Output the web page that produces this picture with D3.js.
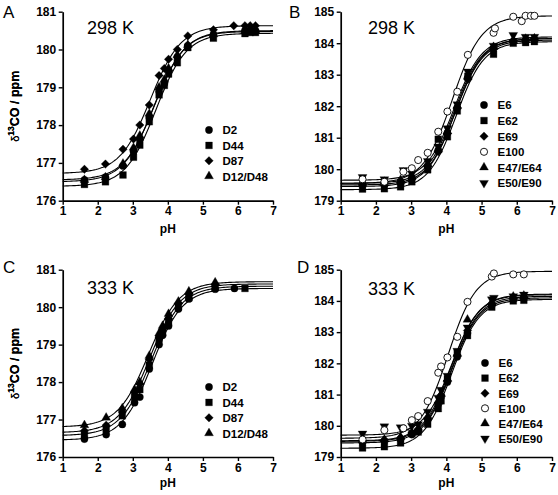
<!DOCTYPE html>
<html>
<head>
<meta charset="utf-8">
<script src="https://cdn.jsdelivr.net/npm/d3@7"></script>
<style>
  html, body { margin: 0; padding: 0; background: #fff; }
  svg { display: block; font-family: "Liberation Sans", Arial, sans-serif; }
</style>
</head>
<body>
<svg id="chart" width="558" height="495"></svg>
<script>
// ---------------- DATA ----------------
const xTicks = [1, 2, 3, 4, 5, 6, 7];
const yTicksD = [176, 177, 178, 179, 180, 181];
const yTicksE = [179, 180, 181, 182, 183, 184, 185];

const namesD = ["D2", "D44", "D87", "D12/D48"];
const namesE = ["E6", "E62", "E69", "E100", "E47/E64", "E50/E90"];
const symbolsD = ["circle", "square", "diamond", "triangle"];
const symbolsE = ["circle", "square", "diamond", "open", "triangle", "down"];

// Panel A (298 K, Asp)
const pHA = [1.62, 2.22, 2.72, 3.02, 3.2, 3.47, 3.75, 3.9, 4.02, 4.27, 4.57, 5.3, 5.88, 6.2, 6.35, 6.5];
const A_D2   = [176.55, 176.62, 176.92, 177.3, 177.62, 178.2, 178.9, 179.1, 179.45, 179.8, 180.1, 180.4, null, 180.5, 180.52, 180.5];
const A_D44  = [176.43, 176.5, 176.68, 177.15, 177.47, 178.09, 178.8, 179.05, 179.35, 179.65, 180.05, 180.3, null, 180.42, 180.45, 180.45];
const A_D87  = [176.83, 176.97, 177.36, 177.63, 178.0, 178.53, 179.31, 179.5, 179.74, 180.0, 180.36, 180.52, 180.63, 180.63, 180.63, 180.63];
const A_D1248 = [176.55, 176.62, 176.98, 177.4, 177.72, 178.3, 179.0, 179.2, 179.5, 179.85, 180.12, 180.4, null, 180.48, 180.48, 180.5];
// fit parameters [low, high, pKa, n]
const fitA = [[176.55, 180.5, 3.62, 1], [176.38, 180.43, 3.66, 1], [176.72, 180.63, 3.5, 1], [176.5, 180.48, 3.6, 1]];

// Panel B (298 K, Glu)
const pHB = [1.62, 2.24, 2.7, 2.78, 3.02, 3.2, 3.47, 3.77, 4.03, 4.31, 4.61, 5.34, 5.38, 5.9, 6.14, 6.25, 6.4, 6.5];
const B_E6    = [179.52, 179.53, 179.6, null, 179.72, null, 180.1, 180.6, 181.15, 181.95, 182.9, 183.82, null, 184.05, null, 184.08, null, 184.1];
const B_E62   = [179.37, 179.38, 179.44, null, 179.6, null, 179.98, 180.95, 181.03, 181.85, 182.95, 183.65, null, 184.0, null, 184.02, null, 184.05];
const B_E69   = [179.47, 179.48, 179.54, null, 179.68, null, 180.08, 180.55, 181.13, 181.95, 182.85, 183.85, null, 184.08, null, 184.12, null, 184.14];
const B_E100  = [179.68, 179.6, null, 179.92, 180.03, 180.29, 180.52, 181.19, 181.83, 182.46, 183.63, 184.33, 184.47, 184.84, 184.7, 184.87, 184.87, 184.87];
const B_E4764 = [179.57, 179.6, 179.66, null, 179.78, null, 180.17, 180.64, 181.2, 182.0, 182.95, 183.88, null, 184.1, null, 184.14, null, 184.15];
const B_E5090 = [179.75, 179.68, null, 179.97, 179.86, null, 180.26, 180.72, 181.3, 182.06, 183.1, 183.92, null, 184.26, null, 184.2, null, 184.2];
const fitB = [[179.5, 184.1, 4.25, 1.1], [179.35, 184.05, 4.28, 1.1], [179.45, 184.15, 4.25, 1.1],
              [179.55, 184.87, 4.17, 1.05], [179.55, 184.15, 4.23, 1.1], [179.65, 184.2, 4.22, 1.1]];

// Panel C (333 K, Asp)
const pHC = [1.62, 2.24, 2.7, 3.05, 3.2, 3.47, 3.75, 3.85, 4.02, 4.3, 4.6, 5.35, 5.9, 6.2];
const C_D2   = [176.48, 176.6, 176.87, 177.45, 177.6, 178.35, 179.0, 179.25, 179.5, 179.95, 180.22, 180.48, 180.5, null];
const C_D44  = [176.58, 176.75, 177.1, 177.6, 177.8, 178.45, 179.15, 179.3, 179.6, 180.0, 180.25, 180.52, null, 180.5];
const C_D87  = [176.7, 176.85, 177.2, 177.72, 177.95, 178.6, 179.2, 179.4, 179.7, 180.1, 180.35, 180.6, null, null];
const C_D1248 = [176.85, 177.05, 177.3, 177.8, 178.0, 178.7, 179.3, 179.5, 179.82, 180.15, 180.42, 180.66, null, null];
const fitC = [[176.45, 180.5, 3.55, 1], [176.57, 180.56, 3.52, 1], [176.65, 180.62, 3.48, 1], [176.8, 180.68, 3.45, 1]];

// Panel D (333 K, Glu)
const pHD = [1.62, 2.24, 2.7, 2.78, 3.02, 3.2, 3.47, 3.77, 3.85, 4.03, 4.31, 4.6, 5.29, 5.35, 5.9, 6.2];
const D_E6    = [179.46, 179.5, 179.57, null, 179.72, 179.84, 180.2, 180.7, 180.93, 181.4, 182.21, 182.97, 183.86, null, 184.04, 184.07];
const D_E62   = [179.29, 179.33, 179.45, null, 179.75, 179.8, 180.05, 180.55, 180.8, 181.5, 182.33, 182.89, 183.8, null, 184.0, 184.02];
const D_E69   = [179.51, 179.55, 179.62, null, 179.77, 179.89, 180.25, 180.74, 180.98, 181.44, 182.26, 183.05, 183.91, null, 184.09, 184.12];
const D_E100  = [179.56, 179.86, null, 179.92, 180.18, 180.31, 180.79, 181.7, 181.9, 182.19, 182.85, 183.97, 184.78, 184.88, 184.85, 184.85];
const D_E4764 = [179.53, 179.56, 179.64, null, 179.79, 179.91, 180.28, 180.77, 181.01, 181.5, 182.3, 183.4, 183.96, null, 184.14, 184.17];
const D_E5090 = [179.75, 179.98, 179.95, null, 180.0, 180.05, 180.45, 180.9, 181.15, 181.6, 182.4, 183.15, 184.05, 184.1, 184.15, 184.2];
const fitD = [[179.45, 184.1, 4.15, 1.1], [179.28, 184.05, 4.15, 1.1], [179.5, 184.15, 4.15, 1.1],
              [179.6, 184.95, 4.05, 1.1], [179.52, 184.2, 4.13, 1.1], [179.7, 184.22, 4.15, 1.1]];

// ---------------- LAYOUT ----------------
const panels = [
  { letter: "A", temp: "298 K", pH: pHA, series: [A_D2, A_D44, A_D87, A_D1248], fits: fitA, names: namesD, syms: symbolsD,
    yTicks: yTicksD, box: { l: 62.7, r: 273, t: 11.7, b: 200.7 }, letterPos: [3, 17.5], tempPos: [87, 33.5],
    leg: { x: 209, y: 130, dy: 15.4 }, pHy: 233 },
  { letter: "B", temp: "298 K", pH: pHB, series: [B_E6, B_E62, B_E69, B_E100, B_E4764, B_E5090], fits: fitB, names: namesE, syms: symbolsE,
    yTicks: yTicksE, box: { l: 340.7, r: 552, t: 11.7, b: 200.7 }, letterPos: [289, 17.5], tempPos: [368, 33.5],
    leg: { x: 484, y: 105, dy: 15.6 }, pHy: 233 },
  { letter: "C", temp: "333 K", pH: pHC, series: [C_D2, C_D44, C_D87, C_D1248], fits: fitC, names: namesD, syms: symbolsD,
    yTicks: yTicksD, box: { l: 62.7, r: 273, t: 269.7, b: 457 }, letterPos: [3, 273], tempPos: [87, 293.5],
    leg: { x: 209, y: 387, dy: 15.4 }, pHy: 487 },
  { letter: "D", temp: "333 K", pH: pHD, series: [D_E6, D_E62, D_E69, D_E100, D_E4764, D_E5090], fits: fitD, names: namesE, syms: symbolsE,
    yTicks: yTicksE, box: { l: 340.7, r: 552, t: 269.7, b: 457 }, letterPos: [297, 273], tempPos: [368, 294.5],
    leg: { x: 485, y: 363, dy: 15.1 }, pHy: 487 }
];

const svg = d3.select("#chart");

function symbolPath(kind) {
  switch (kind) {
    case "circle": return d3.symbol().type(d3.symbolCircle).size(42)();
    case "open": return d3.symbol().type(d3.symbolCircle).size(40)();
    case "square": return d3.symbol().type(d3.symbolSquare).size(46)();
    case "diamond": return d3.symbol().type(d3.symbolSquare).size(36)();
    case "triangle": return d3.symbol().type(d3.symbolTriangle).size(34)();
    case "down": return d3.symbol().type(d3.symbolTriangle).size(34)();
  }
}
function symbolRot(kind) {
  if (kind === "diamond") return 45;
  if (kind === "down") return 180;
  return 0;
}
function drawSymbol(g, kind, x, y) {
  g.append("path")
    .attr("d", symbolPath(kind))
    .attr("transform", `translate(${x},${y}) rotate(${symbolRot(kind)})`)
    .attr("fill", kind === "open" ? "#fff" : "#000")
    .attr("stroke", "#000")
    .attr("stroke-width", kind === "open" ? 0.9 : 0.3);
}

const hh = (p, ph) => p[0] + (p[1] - p[0]) / (1 + Math.pow(10, p[3] * (p[2] - ph)));
const curveX = d3.range(1, 7.0001, 0.05);

panels.forEach(P => {
  const x = d3.scaleLinear().domain([1, 7]).range([P.box.l, P.box.r]);
  const y = d3.scaleLinear().domain([P.yTicks[0], P.yTicks[P.yTicks.length - 1]]).range([P.box.b, P.box.t]);
  const g = svg.append("g");

  // fitted curves
  const line = d3.line().x(d => x(d[0])).y(d => y(d[1]));
  P.fits.forEach(f => {
    g.append("path")
      .datum(curveX.map(ph => [ph, hh(f, ph)]))
      .attr("d", line)
      .attr("fill", "none")
      .attr("stroke", "#000")
      .attr("stroke-width", 1.1);
  });

  // points (open circles last so they sit on top)
  const order = P.syms.map((s, i) => i).sort((a, b) => (P.syms[a] === "open") - (P.syms[b] === "open"));
  order.forEach(i => {
    P.series[i].forEach((v, j) => {
      if (v == null) return;
      drawSymbol(g, P.syms[i], x(P.pH[j]), y(v));
    });
  });

  // axes
  const xa = g.append("g").attr("transform", `translate(0,${P.box.b})`)
    .call(d3.axisBottom(x).tickValues(xTicks).tickFormat(d3.format("d")).tickSize(4).tickSizeOuter(0).tickPadding(2));
  const ya = g.append("g").attr("transform", `translate(${P.box.l},0)`)
    .call(d3.axisLeft(y).tickValues(P.yTicks).tickFormat(d3.format("d")).tickSize(4).tickSizeOuter(0).tickPadding(2.5));
  [xa, ya].forEach(a => {
    a.select(".domain").attr("stroke", "#000").attr("stroke-width", 1.7);
    a.selectAll(".tick line").attr("stroke", "#000").attr("stroke-width", 1.4);
    a.selectAll(".tick text").attr("fill", "#000").attr("font-size", 12).attr("font-weight", "bold")
      .attr("font-family", "'Liberation Sans', Arial, sans-serif");
  });

  // axis titles
  g.append("text").attr("x", (P.box.l + P.box.r) / 2).attr("y", P.pHy)
    .attr("text-anchor", "middle").attr("font-size", 12).attr("font-weight", "bold").text("pH");

  const yt = g.append("text")
    .attr("transform", `translate(19,${(P.box.t + P.box.b) / 2}) rotate(-90)`)
    .attr("text-anchor", "middle").attr("font-size", 12.5).attr("font-weight", "bold");
  yt.append("tspan").attr("font-weight", "normal").attr("font-size", 11).text("δ");
  yt.append("tspan").attr("font-size", 8.5).attr("dy", -5).text("13");
  yt.append("tspan").attr("dy", 5).text("CO / ppm");

  // panel letter and temperature
  svg.append("text").attr("x", P.letterPos[0]).attr("y", P.letterPos[1])
    .attr("font-size", 17).text(P.letter);
  svg.append("text").attr("x", P.tempPos[0]).attr("y", P.tempPos[1])
    .attr("font-size", 18).text(P.temp);

  // legend
  P.names.forEach((n, i) => {
    const ly = P.leg.y + i * P.leg.dy;
    drawSymbol(g, P.syms[i], P.leg.x, ly);
    g.append("text").attr("x", P.leg.x + 13.5).attr("y", ly + 4.3)
      .attr("font-size", 11.5).attr("font-weight", "bold").text(n);
  });
});
</script>
</body>
</html>
